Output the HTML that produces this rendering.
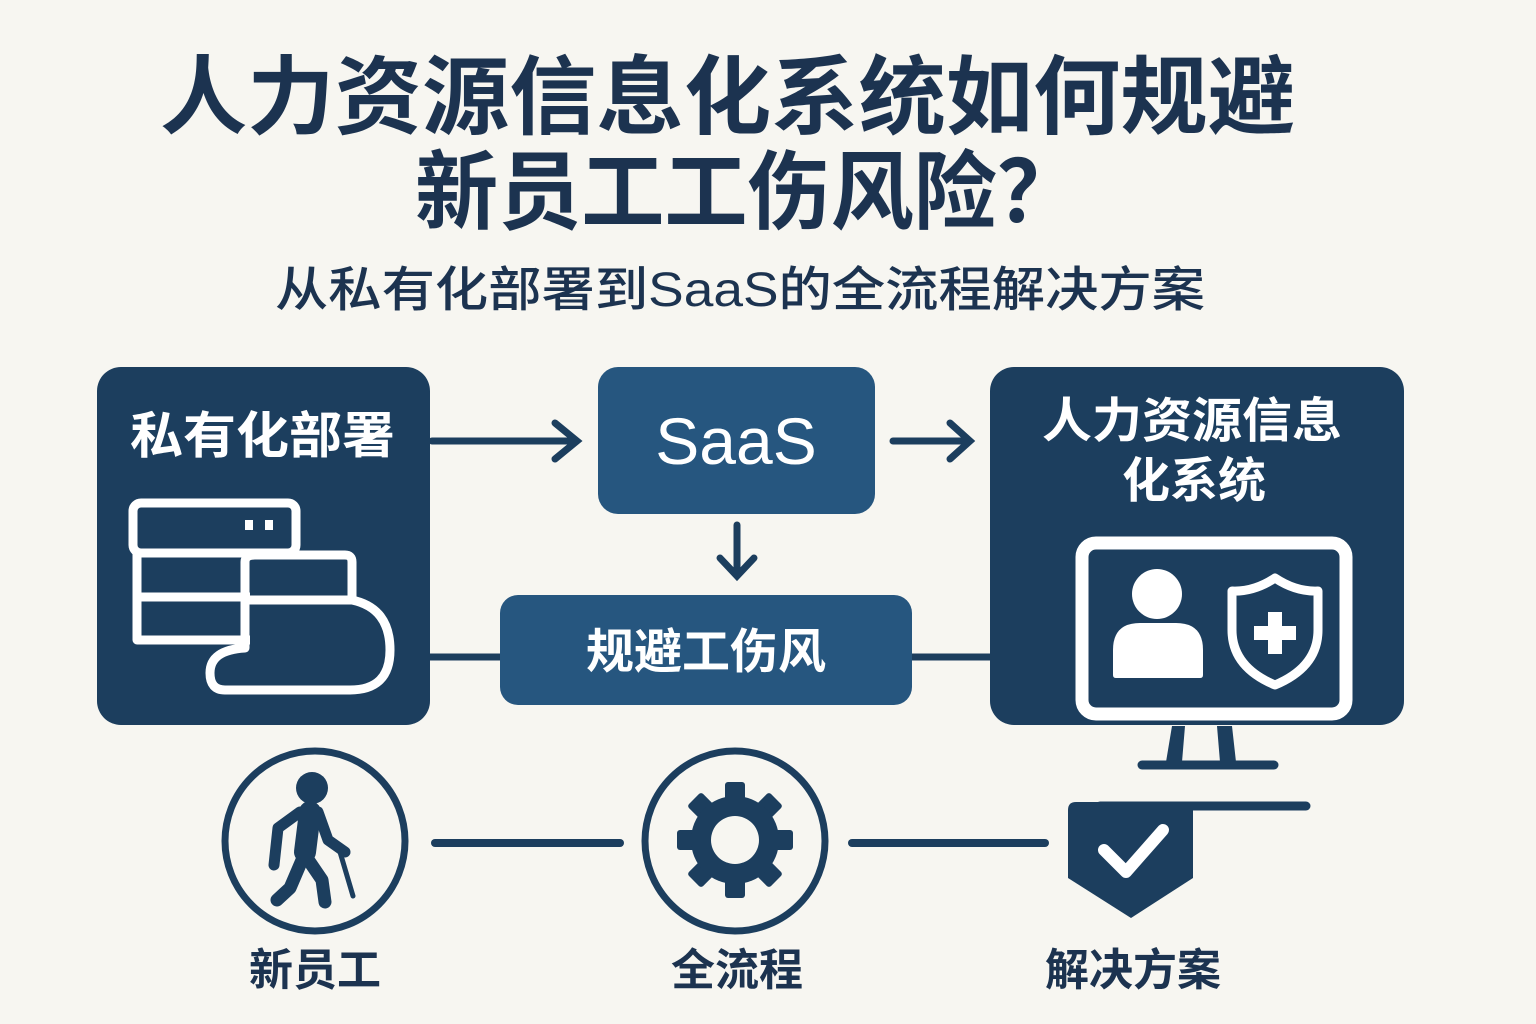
<!DOCTYPE html>
<html><head><meta charset="utf-8"><style>
html,body{margin:0;padding:0;background:#f7f6f1;}
svg{display:block}
text{font-family:"Liberation Sans","Noto Sans CJK SC",sans-serif;}
</style></head><body>
<svg width="1536" height="1024" viewBox="0 0 1536 1024" xmlns="http://www.w3.org/2000/svg">
<rect width="1536" height="1024" fill="#f7f6f1"/>
<g fill="#1c3350" font-weight="bold">
<text x="160" y="127" font-size="86" textLength="1135" lengthAdjust="spacingAndGlyphs">人力资源信息化系统如何规避</text>
<text x="415" y="222" font-size="86" textLength="665" lengthAdjust="spacingAndGlyphs">新员工工伤风险？</text>
</g>
<text x="275" y="306" font-size="48" fill="#1c3350" font-weight="500" textLength="930" lengthAdjust="spacingAndGlyphs">从私有化部署到SaaS的全流程解决方案</text>

<rect x="97" y="367" width="333" height="358" rx="24" fill="#1c3e5e"/>
<text x="130" y="453" font-size="50" font-weight="bold" fill="#fff" textLength="265" lengthAdjust="spacingAndGlyphs">私有化部署</text>
<g fill="none" stroke="#fff" stroke-width="9" stroke-linejoin="round">
<rect x="133" y="503" width="163" height="50" rx="8"/>
<path d="M250 553 H137 V597 H250"/>
<path d="M250 597 H137 V640 H250"/>
<path d="M255 555 H345 Q352 555 352 562 V600 Q390 608 390 650 Q390 690 350 690 H225 Q210 690 210 673 Q210 650 245 648 V562 Q245 555 255 555 Z"/>
<line x1="247" y1="600" x2="352" y2="600"/>
</g>
<rect x="245" y="520" width="8" height="10" fill="#fff"/>
<rect x="265" y="520" width="8" height="10" fill="#fff"/>

<g stroke="#1c3e5e" stroke-width="7" fill="none" stroke-linecap="round">
<line x1="432" y1="441" x2="575" y2="441"/>
<polyline points="555,423 577,441 555,459"/>
<line x1="893" y1="441" x2="968" y2="441"/>
<polyline points="950,423 970,441 950,459"/>
<line x1="737" y1="525" x2="737" y2="575"/>
<polyline points="720,558 737,576 754,558"/>
<line x1="430" y1="657" x2="500" y2="657"/>
<line x1="912" y1="657" x2="990" y2="657"/>
</g>

<rect x="598" y="367" width="277" height="147" rx="20" fill="#26567f"/>
<text x="736" y="464" font-size="66" fill="#fff" text-anchor="middle" font-weight="500">SaaS</text>

<rect x="500" y="595" width="412" height="110" rx="18" fill="#26567f"/>
<text x="706" y="668" font-size="48" fill="#fff" font-weight="bold" text-anchor="middle">规避工伤风</text>

<rect x="990" y="367" width="414" height="358" rx="24" fill="#1c3e5e"/>
<text x="1192" y="437" font-size="48" fill="#fff" font-weight="bold" text-anchor="middle" textLength="300" lengthAdjust="spacingAndGlyphs">人力资源信息</text>
<text x="1194" y="497" font-size="48" fill="#fff" font-weight="bold" text-anchor="middle">化系统</text>
<rect x="1082" y="543" width="264" height="171" rx="14" fill="none" stroke="#fff" stroke-width="13"/>
<circle cx="1157" cy="594" r="25" fill="#fff"/>
<path d="M1113 675 V650 Q1113 623 1140 623 H1176 Q1203 623 1203 650 V675 Q1203 678 1200 678 H1116 Q1113 678 1113 675Z" fill="#fff"/>
<path d="M1275 578 Q1296 592 1318 591 V630 Q1318 667 1275 685 Q1232 667 1232 630 V591 Q1254 592 1275 578Z" fill="none" stroke="#fff" stroke-width="9" stroke-linejoin="round"/>
<path d="M1268 612 h14 v14 h14 v14 h-14 v14 h-14 v-14 h-14 v-14 h14z" fill="#fff"/>
<path d="M1172 726 L1166 762 H1182 L1185 726 Z M1232 726 L1236 762 H1220 L1217 726Z" fill="#1c3e5e"/>
<line x1="1142" y1="765" x2="1274" y2="765" stroke="#1c3e5e" stroke-width="9" stroke-linecap="round"/>

<circle cx="315" cy="841" r="90" fill="none" stroke="#1c3e5e" stroke-width="7"/>
<circle cx="735" cy="841" r="90" fill="none" stroke="#1c3e5e" stroke-width="7"/>
<g stroke="#1c3e5e" stroke-linecap="round" fill="none">
<line x1="435" y1="843" x2="620" y2="843" stroke-width="8"/>
<line x1="852" y1="843" x2="1045" y2="843" stroke-width="8"/>
<line x1="1100" y1="806" x2="1306" y2="806" stroke-width="9"/>
</g>
<g fill="#1c3e5e" stroke="#1c3e5e" stroke-linecap="round" stroke-linejoin="round">
<circle cx="312" cy="788" r="16" stroke="none"/>
<path d="M302 812 L318 812 L328 840 L345 852" fill="none" stroke-width="11"/>
<path d="M300 812 L278 828 L274 865" fill="none" stroke-width="11"/>
<path d="M310 812 L305 852" fill="none" stroke-width="22"/>
<path d="M302 860 L290 888 L277 900" fill="none" stroke-width="13"/>
<path d="M305 855 L322 880 L325 902" fill="none" stroke-width="13"/>
<line x1="340" y1="852" x2="353" y2="896" stroke-width="5"/>
</g>
<g transform="translate(735 840)" fill="#1c3e5e">
<g id="t"><rect x="-10" y="-58" width="20" height="30" rx="3"/></g>
<use href="#t" transform="rotate(45)"/><use href="#t" transform="rotate(90)"/><use href="#t" transform="rotate(135)"/>
<use href="#t" transform="rotate(180)"/><use href="#t" transform="rotate(225)"/><use href="#t" transform="rotate(270)"/><use href="#t" transform="rotate(315)"/>
<circle r="44"/>
<circle r="24" fill="#f7f6f1"/>
</g>
<path d="M1068 810 Q1068 802 1076 802 H1193 V878 L1131 918 L1068 878 Z" fill="#1c3e5e"/>
<polyline points="1104,850 1126,872 1163,830" fill="none" stroke="#fff" stroke-width="12" stroke-linecap="round" stroke-linejoin="round"/>

<g font-size="44" fill="#1c3350" font-weight="bold" text-anchor="middle">
<text x="315" y="985">新员工</text>
<text x="737" y="985">全流程</text>
<text x="1133" y="985">解决方案</text>
</g>
</svg>
</body></html>
